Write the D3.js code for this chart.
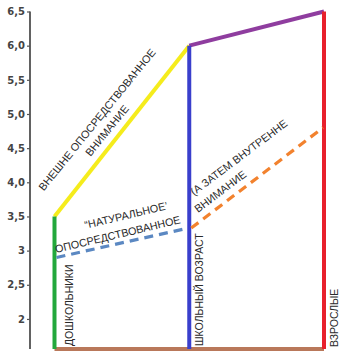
<!DOCTYPE html>
<html><head><meta charset="utf-8">
<script src="https://cdn.jsdelivr.net/npm/d3@7"></script>
<style>
html,body{margin:0;padding:0;background:#fff;}
svg{display:block;}
</style></head>
<body>
<svg id="chart" width="353" height="354"></svg>
<script>
const categories = ["ДОШКОЛЬНИКИ", "ШКОЛЬНЫЙ ВОЗРАСТ", "ВЗРОСЛЫЕ"];
const externalValues = [3.5, 6.0, 6.5];      // solid upper line
const internalValues = [2.9, 3.33, 4.8];     // dashed lower line
const baseValue = 1.56;
const tickValues = [2, 2.5, 3, 3.5, 4, 4.5, 5, 5.5, 6, 6.5];
const tickLabels = ["2", "2,5", "3", "3,5", "4,0", "4,5", "5,0", "5,5", "6,0", "6,5"];
const verticalColors = ["#22a83c", "#3a3fcc", "#e8202c"];
const upperColors = ["#f5ec1c", "#8f3d9f"];
const lowerColors = ["#5b88c2", "#f2822e"];

const svg = d3.select("#chart");
const x = d3.scalePoint().domain(categories).range([54.5, 324]);
const y = d3.scaleLinear().domain([baseValue, 6.5]).range([349, 11.5]);

// Y axis
const axis = d3.axisLeft(y).tickValues(tickValues)
  .tickFormat((d, i) => tickLabels[i]).tickSize(3).tickPadding(2);
const gA = svg.append("g").attr("transform", "translate(30,0)").call(axis);
gA.select(".domain").attr("d", `M0,${y(6.5)}V${y(baseValue)}`)
  .attr("stroke", "#3a3a3a").attr("stroke-width", 1.6);
gA.selectAll(".tick line").attr("stroke", "#555").attr("stroke-width", 1.2);
gA.selectAll(".tick text").attr("fill", "#444")
  .attr("font-family", "DejaVu Sans").attr("font-weight", "bold").attr("font-size", 10);

// Bottom brown line
svg.append("line")
  .attr("x1", x(categories[0])).attr("x2", x(categories[2]))
  .attr("y1", y(baseValue)).attr("y2", y(baseValue))
  .attr("stroke", "#b9785a").attr("stroke-width", 4);

// Upper solid segments
for (let i = 0; i < 2; i++) {
  svg.append("line")
    .attr("x1", x(categories[i])).attr("y1", y(externalValues[i]))
    .attr("x2", x(categories[i + 1])).attr("y2", y(externalValues[i + 1]))
    .attr("stroke", upperColors[i]).attr("stroke-width", 4);
}
// Vertical lines
categories.forEach((c, i) => {
  svg.append("line")
    .attr("x1", x(c)).attr("x2", x(c))
    .attr("y1", y(baseValue)).attr("y2", y(externalValues[i]))
    .attr("stroke", verticalColors[i]).attr("stroke-width", 4);
});
// Dashed lower segments
for (let i = 0; i < 2; i++) {
  svg.append("line")
    .attr("x1", x(categories[i]) + 2).attr("y1", y(internalValues[i]))
    .attr("x2", x(categories[i + 1]) - 1).attr("y2", y(internalValues[i + 1]))
    .attr("stroke", lowerColors[i]).attr("stroke-width", 3.2)
    .attr("stroke-dasharray", "9,6");
}

const font = "Liberation Sans, Arial, sans-serif";
function label(txt, tx, ty, angle, anchor, size) {
  svg.append("text")
    .attr("transform", `translate(${tx},${ty}) rotate(${angle})`)
    .attr("text-anchor", anchor || "start")
    .attr("font-family", font).attr("font-size", size || 10.5)
    .attr("fill", "#2a2a2a").text(txt);
}
// Category labels (vertical)
label(categories[0], x(categories[0]) + 18, 346, -90, "start", 10.5);
label(categories[1], x(categories[1]) + 14, 346, -90, "start", 10.5);
label(categories[2], x(categories[2]) + 14, 347, -90, "start", 10.5);

// Annotations
label("ВНЕШНЕ ОПОСРЕДСТВОВАННОЕ", 100, 122, -51, "middle", 10.8);
label("ВНИМАНИЕ", 110, 133, -51, "middle", 10.8);
label("“НАТУРАЛЬНОЕ’", 127, 219, -13.4, "middle", 10.8);
label("ОПОСРЕДСТВОВАННОЕ", 56, 253, -13.4, "start", 10.8);
label("(А ЗАТЕМ ВНУТРЕННЕ", 194, 196, -37, "start", 10.8);
label("ВНИМАНИЕ", 198, 213, -37, "start", 10.8);
</script>
</body></html>
